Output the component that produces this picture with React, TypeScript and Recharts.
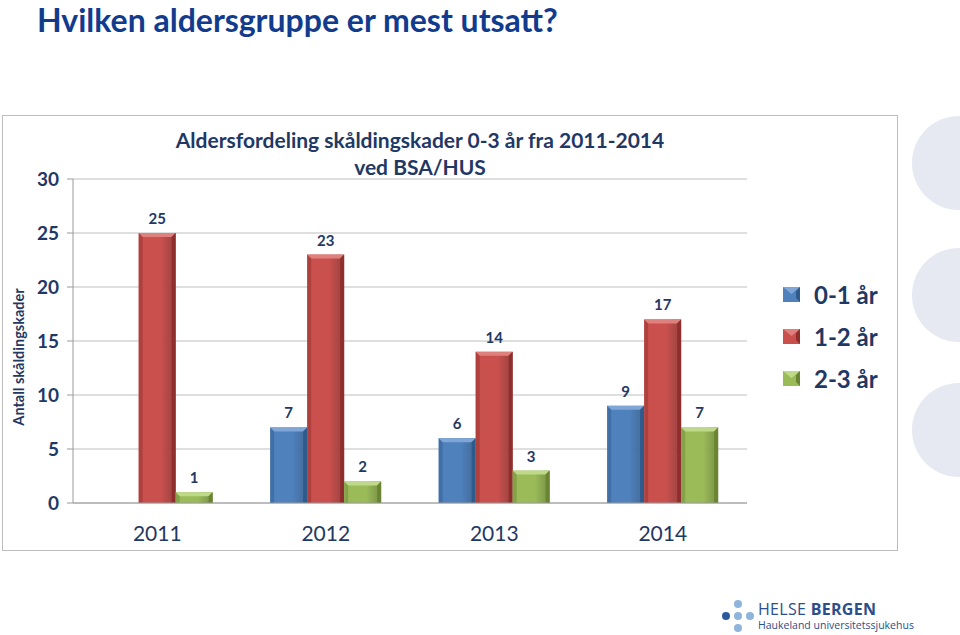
import { BarChart, Bar, XAxis, YAxis, CartesianGrid, LabelList } from "recharts";

const years = ["2011", "2012", "2013", "2014"];
const age01 = [null, 7, 6, 9];
const age12 = [25, 23, 14, 17];
const age23 = [1, 2, 3, 7];
const yTicks = [0, 5, 10, 15, 20, 25, 30];

const seriesInfo = [
  { key: "a01", name: "0-1 år", color: "#4F81BD", dark: "#2E5A8C", light: "#7FA6D6" },
  { key: "a12", name: "1-2 år", color: "#C9504D", dark: "#8E2F2D", light: "#E0807D" },
  { key: "a23", name: "2-3 år", color: "#9BBB59", dark: "#6A8532", light: "#BFD98A" },
];

const data = years.map((year, i) => ({
  year,
  idx: i,
  a01: age01[i],
  a12: age12[i],
  a23: age23[i],
}));

const NAVY = "#1F3864";
const FONT = "Lato, 'Open Sans', sans-serif";

// bevelled bar like the office 3d style
function bevelShape(s: typeof seriesInfo[number]) {
  return (props: any) => {
    const { x, y, width, height } = props;
    if (!height || height <= 0) return null;
    const b = Math.min(4, height / 2);
    return (
      <g>
        <rect x={x} y={y} width={width} height={height} fill={`url(#grad-${s.key})`} />
        <polygon
          points={`${x},${y} ${x + width},${y} ${x + width - b},${y + b} ${x + b},${y + b}`}
          fill={s.light}
        />
        <polygon
          points={`${x + width},${y} ${x + width},${y + height} ${x + width - b},${y + height} ${x + width - b},${y + b}`}
          fill={s.dark}
        />
        <polygon
          points={`${x},${y} ${x + b},${y + b} ${x + b},${y + height} ${x},${y + height}`}
          fill={s.dark}
          opacity={0.45}
        />
      </g>
    );
  };
}

function LegendBox({ s }: { s: typeof seriesInfo[number] }) {
  return (
    <svg width={17} height={15} style={{ marginRight: 14 }}>
      <rect x={0} y={0} width={17} height={15} fill={s.color} />
      <polygon points="0,0 17,0 8.5,7" fill={s.light} />
      <polygon points="17,0 17,15 13,11 13,4" fill={s.dark} />
    </svg>
  );
}

function ChartLegend() {
  return (
    <div style={{ position: "absolute", left: 783, top: 273, fontFamily: FONT }}>
      {seriesInfo.map((s) => (
        <div
          key={s.key}
          style={{ display: "flex", alignItems: "center", height: 42, fontSize: 24, fontWeight: 700, color: NAVY }}
        >
          <LegendBox s={s} />
          <span>{s.name}</span>
        </div>
      ))}
    </div>
  );
}

function Logo() {
  const dot = (cx: number, cy: number, r: number, c: string) => <circle cx={cx} cy={cy} r={r} fill={c} />;
  return (
    <div style={{ position: "absolute", left: 720, top: 599, display: "flex", alignItems: "center" }}>
      <svg width={36} height={34}>
        {dot(18, 5, 4, "#8FB4DC")}
        {dot(18, 17, 4, "#8FB4DC")}
        {dot(18, 29, 4, "#8FB4DC")}
        {dot(30, 17, 4, "#8FB4DC")}
        {dot(6, 17, 4, "#2C5AA0")}
      </svg>
      <div style={{ marginLeft: 2, fontFamily: "'Open Sans', sans-serif", color: "#2C4E8A" }}>
        <div style={{ fontSize: 16, lineHeight: "18px", letterSpacing: 0.3 }}>
          HELSE <b>BERGEN</b>
        </div>
        <div style={{ fontSize: 10.5, lineHeight: "13px", marginTop: 1 }}>Haukeland universitetssjukehus</div>
      </div>
    </div>
  );
}

export default function App() {
  return (
    <div style={{ position: "absolute", left: 0, top: 0, width: 960, height: 635, background: "#fff", overflow: "hidden", fontFamily: FONT }}>
      <div style={{ position: "absolute", left: 37, top: 0, fontSize: 32, fontWeight: 700, color: "#113C8E", lineHeight: "normal" }}>
        Hvilken aldersgruppe er mest utsatt?
      </div>

      {[163, 295, 430].map((cy) => (
        <div
          key={cy}
          style={{ position: "absolute", left: 912, top: cy - 47, width: 94, height: 94, borderRadius: "50%", background: "#E6E8F2" }}
        />
      ))}

      <div style={{ position: "absolute", left: 2, top: 115, width: 896, height: 436, border: "1px solid #BDBDBD", boxSizing: "border-box" }} />

      <div style={{ position: "absolute", left: 160, top: 126, width: 520, textAlign: "center", fontSize: 21, fontWeight: 700, color: NAVY, lineHeight: "27px" }}>
        Aldersfordeling skåldingskader 0-3 år fra 2011-2014
        <br />
        ved BSA/HUS
      </div>

      <div
        style={{ position: "absolute", left: 18, top: 357, transform: "translate(-50%, -50%) rotate(-90deg)", whiteSpace: "nowrap", fontSize: 14.5, fontWeight: 700, color: NAVY }}
      >
        Antall skåldingskader
      </div>

      <div style={{ position: "absolute", left: 0, top: 0 }}>
        <BarChart
          width={960}
          height={635}
          data={data}
          margin={{ top: 179, right: 213, bottom: 94, left: 13 }}
          barGap={0}
          barCategoryGap="17%"
        >
          <defs>
            {seriesInfo.map((s) => (
              <linearGradient key={s.key} id={`grad-${s.key}`} x1="0" y1="0" x2="1" y2="0">
                <stop offset="0%" stopColor={s.color} />
                <stop offset="60%" stopColor={s.color} />
                <stop offset="100%" stopColor={s.dark} stopOpacity={0.9} />
              </linearGradient>
            ))}
          </defs>
          <CartesianGrid vertical={false} stroke="#BFBFBF" />
          <XAxis
            xAxisId="edges"
            type="number"
            dataKey="idx"
            domain={[0, 4]}
            ticks={[0, 1, 2, 3, 4]}
            tick={false}
            tickSize={6}
            axisLine={false}
            tickLine={{ stroke: "#9A9A9A" }}
            height={0}
          />
          <XAxis
            dataKey="year"
            height={38}
            tickLine={false}
            axisLine={{ stroke: "#9A9A9A" }}
            tick={{ fill: NAVY, fontSize: 21, fontFamily: FONT }}
            tickMargin={17}
          />
          <YAxis
            domain={[0, 30]}
            ticks={yTicks}
            width={60}
            axisLine={{ stroke: "#9A9A9A" }}
            tickLine={{ stroke: "#9A9A9A" }}
            tickSize={6}
            tickMargin={8}
            tick={{ fill: NAVY, fontSize: 19, fontWeight: 700, fontFamily: FONT }}
          />
          {seriesInfo.map((s) => (
            <Bar key={s.key} dataKey={s.key} name={s.name} fill={s.color} shape={bevelShape(s)} isAnimationActive={false}>
              <LabelList dataKey={s.key} position="top" offset={9} fill={NAVY} fontSize={15} fontWeight={700} fontFamily={FONT} />
            </Bar>
          ))}
        </BarChart>
      </div>

      <ChartLegend />
      <Logo />
    </div>
  );
}
